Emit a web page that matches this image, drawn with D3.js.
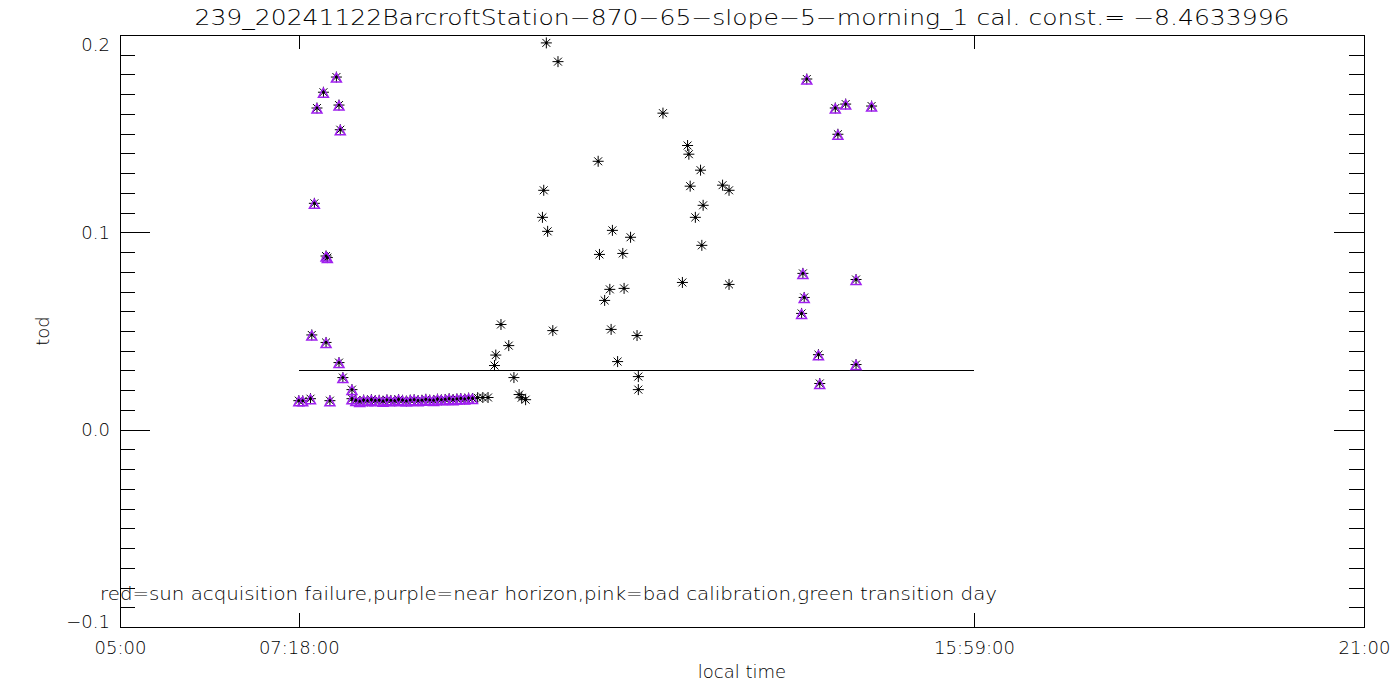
<!DOCTYPE html>
<html>
<head>
<meta charset="utf-8">
<script src="https://cdn.jsdelivr.net/npm/d3@7"></script>
<style>
  body { margin: 0; background: #fff; }
  svg text { font-family: "DejaVu Sans", "Liberation Sans", sans-serif; font-weight: 200; fill: #000; }
</style>
</head>
<body>
<svg id="chart" width="1400" height="700"></svg>
<script>
// Readings: local time (HH:MM) and tod
const titleText = '239_20241122BarcroftStation\u2212870\u221265\u2212slope\u22125\u2212morning_1 cal. const.= \u22128.4633996';
const legendText = 'red=sun acquisition failure,purple=near horizon,pink=bad calibration,green transition day';

// points flagged near horizon (purple)
const horizonTimes = [
  '07:18', '07:21', '07:27', '07:28', '07:30', '07:32', '07:37', '07:39', '07:40', '07:39',
  '07:42', '07:47', '07:49', '07:50', '07:49', '07:52', '07:59', '07:59',
  '08:02', '08:05', '08:08', '08:11', '08:14', '08:17', '08:20', '08:23', '08:26', '08:29',
  '08:32', '08:35', '08:38', '08:41', '08:44', '08:47', '08:50', '08:53', '08:56', '08:59',
  '09:02', '09:05', '09:08', '09:11', '09:14', '09:17', '09:20', '09:23', '09:26', '09:29', '09:32',
  '13:46', '13:47', '13:48', '13:50', '13:59', '14:00', '14:12', '14:14', '14:20', '14:28', '14:28', '14:40',
];
const horizonTod = [
  0.0147, 0.0146, 0.0157, 0.0480, 0.1147, 0.1630, 0.1710, 0.0880, 0.0872, 0.0442,
  0.0147, 0.1787, 0.1645, 0.1520, 0.0340, 0.0264, 0.0203, 0.0157,
  0.0148, 0.0143, 0.0150, 0.0146, 0.0152, 0.0147, 0.0149, 0.0144, 0.0151, 0.0148,
  0.0146, 0.0153, 0.0149, 0.0145, 0.0150, 0.0152, 0.0147, 0.0149, 0.0154, 0.0150,
  0.0148, 0.0155, 0.0151, 0.0153, 0.0157, 0.0152, 0.0156, 0.0158, 0.0155, 0.0160, 0.0158,
  0.0589, 0.0792, 0.0670, 0.1777, 0.0380, 0.0234, 0.1630, 0.1497, 0.1650, 0.0761, 0.0330, 0.1640,
];

// remaining points (black only)
const otherTimes = [
  '09:36', '09:40', '09:44', '09:49', '09:50', '09:54', '10:00', '10:04', '10:08', '10:10',
  '10:13', '10:26', '10:27', '10:29', '10:30', '10:34', '10:38', '11:09', '11:10', '11:14',
  '11:18', '11:19', '11:20', '11:24', '11:28', '11:29', '11:34', '11:39', '11:40', '11:40',
  '11:59', '12:14', '12:18', '12:19', '12:20', '12:24', '12:28', '12:29', '12:30', '12:45',
  '12:50', '12:50',
];
const otherTod = [
  0.0162, 0.0163, 0.0163, 0.0325, 0.0378, 0.0533, 0.0426, 0.0264, 0.0178, 0.0162,
  0.0152, 0.1076, 0.1213, 0.1960, 0.1005, 0.0502, 0.1865, 0.1360, 0.0888, 0.0655,
  0.0711, 0.0508, 0.1010, 0.0345, 0.0893, 0.0716, 0.0975, 0.0477, 0.0269, 0.0203,
  0.1604, 0.0746, 0.1440, 0.1396, 0.1234, 0.1076, 0.1315, 0.0934, 0.1137, 0.1239,
  0.1213, 0.0736,
];

// x axis: range and tick labels (sunrise / sunset)
const timeDomain = ['05:00', '21:00'];
const timeTicks = ['05:00', '07:18:00', '15:59:00', '21:00'];
const todDomain = [-0.1, 0.2];
const todTicks = [-0.1, 0.0, 0.1, 0.2];
const thresholdTimes = ['07:18', '15:59'];
const thresholdTod = [0.03, 0.03];

const svg = d3.select('#chart');
const margin = {top: 35, right: 36, bottom: 73, left: 120};
const width = 1400 - margin.left - margin.right;
const height = 700 - margin.top - margin.bottom;

const parseHM = d3.timeParse('%H:%M');
const parseHMS = d3.timeParse('%H:%M:%S');
const toDate = (s) => parseHMS(s) || parseHM(s);

const x = d3.scaleTime()
  .domain(timeDomain.map(toDate))
  .range([0, width]);
const y = d3.scaleLinear()
  .domain(todDomain)
  .range([height, 0]);

const g = svg.append('g')
  .attr('transform', `translate(${margin.left}, ${margin.top})`);

// title
svg.append('text')
  .attr('x', margin.left + width / 2)
  .attr('y', 25)
  .attr('text-anchor', 'middle')
  .attr('font-size', 22)
  .attr('textLength', 1095)
  .attr('lengthAdjust', 'spacingAndGlyphs')
  .text(titleText);

// y axes: majors every 0.1, minors every 0.01
const minorTicks = d3.range(-9, 20).map((i) => i / 100).filter((v) => Math.abs(v * 10 - Math.round(v * 10)) > 1e-6);

const leftMajor = d3.axisLeft(y).tickValues(todTicks).tickSize(-30).tickPadding(8)
  .tickFormat(d3.format('.1f'));
const leftMinor = d3.axisLeft(y).tickValues(minorTicks).tickSize(-15).tickFormat('');
const rightMajor = d3.axisRight(y).tickValues(todTicks).tickSize(-30).tickFormat('');
const rightMinor = d3.axisRight(y).tickValues(minorTicks).tickSize(-15).tickFormat('');

g.append('g').attr('class', 'axis').call(leftMinor);
const yl = g.append('g').attr('class', 'axis').call(leftMajor);
yl.selectAll('text')
  .attr('font-size', 18)
  .attr('dx', -2)
  .attr('dy', (d) => d === 0.2 ? '0.85em' : d === -0.1 ? '0' : '0.35em')
  .text((d) => d3.format('.1f')(d).replace('-', '\u2212'));
g.append('g').attr('transform', `translate(${width}, 0)`).call(rightMinor);
g.append('g').attr('transform', `translate(${width}, 0)`).call(rightMajor);

// x axes
const fmtTick = (d) => {
  const s = timeTicks.find((t) => +toDate(t) === +d);
  return s || '';
};
const bottomAxis = d3.axisBottom(x).tickValues(timeTicks.map(toDate)).tickSize(-14).tickPadding(14)
  .tickFormat(fmtTick);
const topAxis = d3.axisTop(x).tickValues(timeTicks.map(toDate)).tickSize(-14).tickFormat('');
const xb = g.append('g').attr('transform', `translate(0, ${height})`).call(bottomAxis);
xb.selectAll('text').attr('font-size', 18);
g.append('g').call(topAxis);

g.selectAll('.domain').remove();
g.selectAll('.tick line')
  .attr('stroke', '#000')
  .attr('stroke-width', 1)
  .attr('shape-rendering', 'crispEdges');

// frame
g.append('rect')
  .attr('x', 0.5).attr('y', 0.5)
  .attr('width', width).attr('height', height)
  .attr('fill', 'none').attr('stroke', '#000').attr('stroke-width', 1)
  .attr('shape-rendering', 'crispEdges');

// axis titles
svg.append('text')
  .attr('x', margin.left + width / 2)
  .attr('y', 678)
  .attr('text-anchor', 'middle')
  .attr('font-size', 18)
  .text('local time');
svg.append('text')
  .attr('transform', `translate(49, ${margin.top + y(0.05)}) rotate(-90)`)
  .attr('text-anchor', 'middle')
  .attr('font-size', 18)
  .text('tod');

// threshold line
g.append('line')
  .attr('x1', x(toDate(thresholdTimes[0])))
  .attr('x2', x(toDate(thresholdTimes[1])))
  .attr('y1', y(thresholdTod[0]))
  .attr('y2', y(thresholdTod[1]))
  .attr('stroke', '#000')
  .attr('stroke-width', 1)
  .attr('shape-rendering', 'crispEdges');

// asterisk marker path (psym=2 look)
const r = 5.5;
const d45 = r * 0.72;
const asterisk = `M${-r},0H${r}M0,${-r}V${r}M${-d45},${-d45}L${d45},${d45}M${-d45},${d45}L${d45},${-d45}`;
const triangle = `M0,${-4}L${-5},${5}L${5},${5}Z`;

const allTimes = horizonTimes.concat(otherTimes);
const allTod = horizonTod.concat(otherTod);

g.append('g').selectAll('path')
  .data(d3.range(allTimes.length))
  .join('path')
    .attr('transform', (i) => `translate(${x(toDate(allTimes[i]))}, ${y(allTod[i])})`)
    .attr('d', asterisk)
    .attr('stroke', '#000')
    .attr('stroke-width', 1)
    .attr('fill', 'none');

g.append('g').selectAll('path')
  .data(d3.range(horizonTimes.length))
  .join('path')
    .attr('transform', (i) => `translate(${x(toDate(horizonTimes[i]))}, ${y(horizonTod[i])})`)
    .attr('d', triangle)
    .attr('stroke', '#a020f0')
    .attr('stroke-width', 1.5)
    .attr('fill', 'none');

g.append('g').selectAll('circle')
  .data(d3.range(allTimes.length))
  .join('circle')
    .attr('cx', (i) => x(toDate(allTimes[i])))
    .attr('cy', (i) => y(allTod[i]))
    .attr('r', 1.4)
    .attr('fill', '#000');

// legend note
svg.append('text')
  .attr('x', 100)
  .attr('y', 600)
  .attr('font-size', 17)
  .attr('textLength', 897)
  .attr('lengthAdjust', 'spacingAndGlyphs')
  .text(legendText);
</script>
</body>
</html>
